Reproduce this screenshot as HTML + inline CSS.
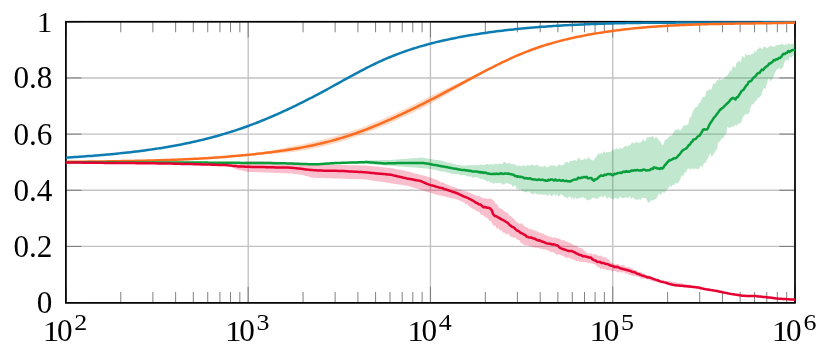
<!DOCTYPE html>
<html><head><meta charset="utf-8"><title>chart</title>
<style>html,body{margin:0;padding:0;background:#fff;}body{width:831px;height:353px;overflow:hidden;font-family:"Liberation Serif",serif;}svg{display:block;}</style>
</head><body>
<svg width="831" height="353" viewBox="0 0 831 353">
<rect width="831" height="353" fill="#fff"/>
<defs><clipPath id="c"><rect x="65.1" y="20.9" width="730.7" height="282.8"/></clipPath></defs>
<path d="M65.90,21.80V302.60M248.18,21.80V302.60M430.45,21.80V302.60M612.73,21.80V302.60M795.00,21.80V302.60M65.90,302.60H795.00M65.90,246.44H795.00M65.90,190.28H795.00M65.90,134.12H795.00M65.90,77.96H795.00M65.90,21.80H795.00" stroke="#c2c2c2" stroke-width="1.35" fill="none"/>
<path d="M120.77,302.90V292.00M120.77,21.75V32.30M152.87,302.90V292.00M152.87,21.75V32.30M175.64,302.90V292.00M175.64,21.75V32.30M193.30,302.90V292.00M193.30,21.75V32.30M207.74,302.90V292.00M207.74,21.75V32.30M219.94,302.90V292.00M219.94,21.75V32.30M230.51,302.90V292.00M230.51,21.75V32.30M239.83,302.90V292.00M239.83,21.75V32.30M303.05,302.90V292.00M303.05,21.75V32.30M335.14,302.90V292.00M335.14,21.75V32.30M357.92,302.90V292.00M357.92,21.75V32.30M375.58,302.90V292.00M375.58,21.75V32.30M390.01,302.90V292.00M390.01,21.75V32.30M402.22,302.90V292.00M402.22,21.75V32.30M412.79,302.90V292.00M412.79,21.75V32.30M422.11,302.90V292.00M422.11,21.75V32.30M485.32,302.90V292.00M485.32,21.75V32.30M517.42,302.90V292.00M517.42,21.75V32.30M540.19,302.90V292.00M540.19,21.75V32.30M557.85,302.90V292.00M557.85,21.75V32.30M572.29,302.90V292.00M572.29,21.75V32.30M584.49,302.90V292.00M584.49,21.75V32.30M595.06,302.90V292.00M595.06,21.75V32.30M604.38,302.90V292.00M604.38,21.75V32.30M667.60,302.90V292.00M667.60,21.75V32.30M699.69,302.90V292.00M699.69,21.75V32.30M722.47,302.90V292.00M722.47,21.75V32.30M740.13,302.90V292.00M740.13,21.75V32.30M754.56,302.90V292.00M754.56,21.75V32.30M766.77,302.90V292.00M766.77,21.75V32.30M777.34,302.90V292.00M777.34,21.75V32.30M786.66,302.90V292.00M786.66,21.75V32.30M65.90,302.90V286.80M65.90,21.75V37.50M248.18,302.90V286.80M248.18,21.75V37.50M430.45,302.90V286.80M430.45,21.75V37.50M612.73,302.90V286.80M612.73,21.75V37.50M795.00,302.90V286.80M795.00,21.75V37.50M65.90,302.60h15.60M795.00,302.60h-15.60M65.90,246.44h15.60M795.00,246.44h-15.60M65.90,190.28h15.60M795.00,190.28h-15.60M65.90,134.12h15.60M795.00,134.12h-15.60M65.90,77.96h15.60M795.00,77.96h-15.60M65.90,21.80h15.60M795.00,21.80h-15.60" stroke="#737373" stroke-width="0.9" fill="none"/>
<rect x="65.90" y="21.75" width="729.10" height="281.15" fill="none" stroke="#000" stroke-width="1.7"/>
<g clip-path="url(#c)" fill="none" stroke-linejoin="round" stroke-linecap="butt">
<polygon points="255.0,154.1 256.5,153.8 257.9,153.5 259.4,153.2 260.9,152.9 262.3,152.6 263.8,152.3 265.3,151.9 266.8,151.6 268.2,151.3 269.7,151.0 271.2,150.7 272.6,150.4 274.1,150.1 275.6,149.8 277.0,149.5 278.5,149.2 280.0,148.9 281.4,148.6 282.9,148.3 284.4,147.9 285.8,147.6 287.3,147.3 288.8,147.0 290.2,146.7 291.7,146.4 293.2,146.1 294.7,145.8 296.1,145.5 297.6,145.3 299.1,145.0 300.5,144.7 302.0,144.4 303.5,144.0 304.9,143.7 306.4,143.4 307.9,143.1 309.3,142.8 310.8,142.4 312.3,142.1 313.8,141.8 315.2,141.5 316.7,141.1 318.2,140.8 319.6,140.5 321.1,140.1 322.6,139.7 324.0,139.4 325.5,139.0 327.0,138.6 328.4,138.2 329.9,137.8 331.4,137.4 332.8,137.0 334.3,136.6 335.8,136.2 337.2,135.8 338.7,135.3 340.2,134.9 341.7,134.4 343.1,134.0 344.6,133.5 346.1,133.0 347.5,132.5 349.0,132.1 350.5,131.6 351.9,131.1 353.4,130.6 354.9,130.0 356.3,129.5 357.8,129.0 359.3,128.5 360.8,127.9 362.2,127.4 363.7,126.8 365.2,126.3 366.6,125.7 368.1,125.1 369.6,124.5 371.0,124.0 372.5,123.4 374.0,122.8 375.4,122.2 376.9,121.6 378.4,120.9 379.8,120.3 381.3,119.7 382.8,119.1 384.2,118.4 385.7,117.8 387.2,117.1 388.7,116.5 390.1,115.8 391.6,115.1 393.1,114.5 394.5,113.8 396.0,113.1 397.5,112.4 398.9,111.7 400.4,111.0 401.9,110.3 403.3,109.6 404.8,108.9 406.3,108.2 407.8,107.5 409.2,106.8 410.7,106.1 412.2,105.4 413.6,104.6 415.1,103.9 416.6,103.2 418.0,102.4 419.5,101.7 421.0,101.0 422.4,100.2 423.9,99.5 425.4,98.7 426.8,98.0 428.3,97.2 429.8,96.4 431.2,95.7 432.7,95.0 434.2,94.4 435.7,93.7 437.1,93.0 438.6,92.3 440.1,91.6 441.5,90.9 443.0,90.2 444.5,89.5 445.9,88.8 447.4,88.1 448.9,87.4 450.3,86.7 451.8,86.0 453.3,85.3 454.8,84.6 456.2,83.9 457.7,83.2 459.2,82.5 460.6,81.8 462.1,81.1 463.6,80.4 465.0,79.7 466.5,79.0 468.0,78.2 469.4,77.5 470.9,76.8 472.4,76.1 473.8,75.4 475.3,74.7 476.8,74.1 478.2,73.5 479.7,72.8 481.2,72.2 482.7,71.6 484.1,71.0 485.6,70.3 487.1,69.7 488.5,69.1 490.0,68.5 490.0,68.5 488.5,69.4 487.1,70.3 485.6,71.2 484.1,72.1 482.7,73.1 481.2,74.0 479.7,74.9 478.2,75.8 476.8,76.7 475.3,77.7 473.8,78.5 472.4,79.4 470.9,80.3 469.4,81.1 468.0,82.0 466.5,82.9 465.0,83.7 463.6,84.6 462.1,85.5 460.6,86.3 459.2,87.2 457.7,88.1 456.2,88.9 454.8,89.8 453.3,90.7 451.8,91.6 450.3,92.4 448.9,93.3 447.4,94.2 445.9,95.0 444.5,95.9 443.0,96.7 441.5,97.6 440.1,98.4 438.6,99.3 437.1,100.1 435.7,100.9 434.2,101.8 432.7,102.6 431.2,103.4 429.8,104.2 428.3,105.0 426.8,105.7 425.4,106.5 423.9,107.2 422.4,107.9 421.0,108.7 419.5,109.4 418.0,110.1 416.6,110.8 415.1,111.6 413.6,112.3 412.2,113.0 410.7,113.7 409.2,114.4 407.8,115.1 406.3,115.8 404.8,116.5 403.3,117.2 401.9,117.8 400.4,118.5 398.9,119.2 397.5,119.9 396.0,120.5 394.5,121.2 393.1,121.8 391.6,122.5 390.1,123.1 388.7,123.8 387.2,124.4 385.7,125.0 384.2,125.7 382.8,126.3 381.3,126.9 379.8,127.5 378.4,128.1 376.9,128.7 375.4,129.3 374.0,129.9 372.5,130.5 371.0,131.1 369.6,131.7 368.1,132.3 366.6,132.8 365.2,133.4 363.7,133.9 362.2,134.5 360.8,135.0 359.3,135.6 357.8,136.1 356.3,136.6 354.9,137.1 353.4,137.6 351.9,138.1 350.5,138.6 349.0,139.1 347.5,139.6 346.1,140.1 344.6,140.5 343.1,141.0 341.7,141.4 340.2,141.9 338.7,142.3 337.2,142.7 335.8,143.1 334.3,143.5 332.8,143.9 331.4,144.3 329.9,144.7 328.4,145.1 327.0,145.4 325.5,145.8 324.0,146.2 322.6,146.5 321.1,146.8 319.6,147.2 318.2,147.5 316.7,147.8 315.2,148.1 313.8,148.4 312.3,148.7 310.8,149.0 309.3,149.3 307.9,149.6 306.4,149.8 304.9,150.1 303.5,150.3 302.0,150.6 300.5,150.8 299.1,151.0 297.6,151.2 296.1,151.5 294.7,151.7 293.2,151.9 291.7,152.1 290.2,152.3 288.8,152.4 287.3,152.5 285.8,152.7 284.4,152.8 282.9,152.9 281.4,153.0 280.0,153.1 278.5,153.2 277.0,153.3 275.6,153.4 274.1,153.5 272.6,153.6 271.2,153.7 269.7,153.8 268.2,153.8 266.8,153.8 265.3,153.9 263.8,153.9 262.3,154.0 260.9,154.0 259.4,154.0 257.9,154.0 256.5,154.1 255.0,154.1" fill="#fc6d1f" fill-opacity="0.25" stroke="none"/>
<polygon points="340.0,162.9 341.3,162.8 342.6,162.6 343.9,162.5 345.2,162.4 346.5,162.3 347.8,162.1 349.1,162.0 350.4,161.9 351.7,161.8 353.0,161.6 354.3,161.5 355.6,161.4 356.9,161.2 358.2,161.1 359.5,161.0 360.8,160.9 362.1,160.7 363.4,160.6 364.7,160.5 366.0,160.4 367.3,160.4 368.6,160.4 369.9,160.3 371.2,160.3 372.5,160.3 373.8,160.3 375.1,160.2 376.4,160.2 377.7,160.2 379.0,160.2 380.3,160.2 381.6,160.1 382.9,160.1 384.2,160.1 385.5,160.1 386.8,160.1 388.1,160.0 389.4,160.0 390.7,160.0 392.0,159.9 393.3,159.8 394.6,159.7 395.9,159.6 397.2,159.5 398.5,159.4 399.8,159.3 401.1,159.2 402.4,159.1 403.7,159.0 405.0,158.9 406.3,158.8 407.6,158.7 408.9,158.6 410.2,158.5 411.5,158.4 412.8,158.3 414.1,158.2 415.4,158.0 416.7,157.9 418.0,157.8 419.3,157.7 420.6,157.6 421.9,157.6 423.2,157.8 424.5,158.0 425.8,158.3 427.1,158.5 428.4,158.7 429.7,158.9 431.0,159.1 432.3,159.3 433.6,159.5 434.9,159.7 436.2,159.9 437.5,160.0 438.8,160.3 440.1,160.3 441.4,160.7 442.7,160.8 444.0,161.4 445.3,161.9 446.6,162.0 447.9,162.7 449.2,162.6 450.5,162.8 451.8,163.5 453.1,163.5 454.4,163.9 455.7,164.5 457.0,165.0 458.3,165.0 459.6,165.1 460.9,165.7 462.2,165.3 463.5,165.8 464.8,165.7 466.1,165.2 467.4,165.2 468.7,165.3 470.0,165.3 471.3,165.3 472.6,165.2 473.9,165.2 475.2,165.6 476.5,165.0 477.8,164.9 479.1,165.2 480.4,164.5 481.7,164.6 483.0,165.5 484.3,164.8 485.6,164.8 486.9,163.9 488.2,164.5 489.5,164.7 490.8,163.7 492.1,164.7 493.4,164.7 494.7,163.5 496.0,164.4 497.3,163.9 498.6,164.2 499.9,163.4 501.2,163.9 502.5,163.8 503.8,162.1 505.1,162.0 506.4,163.2 507.7,163.8 509.0,162.5 510.3,163.5 511.6,164.3 512.9,163.9 514.2,164.5 515.5,164.8 516.8,165.4 518.1,166.3 519.4,165.5 520.7,165.7 522.0,166.6 523.3,164.7 524.6,165.9 525.9,166.3 527.2,165.2 528.5,164.9 529.8,166.3 531.1,164.8 532.4,164.7 533.7,165.2 535.0,165.8 536.3,164.4 537.6,165.2 538.9,165.4 540.2,166.9 541.5,166.0 542.8,167.3 544.1,165.6 545.4,166.2 546.7,166.9 548.0,167.3 549.3,166.2 550.6,165.5 551.9,165.1 553.2,166.1 554.5,165.1 555.8,166.6 557.1,166.6 558.4,164.7 559.7,164.5 561.0,165.8 562.3,164.8 563.6,164.9 564.9,163.0 566.2,161.8 567.5,161.9 568.8,163.1 570.1,161.1 571.4,161.0 572.7,160.8 574.0,160.5 575.3,160.1 576.6,161.3 577.9,158.6 579.2,157.8 580.5,160.3 581.8,159.9 583.1,159.9 584.4,158.2 585.7,159.4 587.0,159.1 588.3,156.9 589.6,158.2 590.9,159.7 592.2,160.3 593.5,160.6 594.8,158.3 596.1,157.2 597.4,155.3 598.7,153.2 600.0,154.5 601.3,152.7 602.6,154.0 603.9,151.0 605.2,153.3 606.5,152.1 607.8,152.4 609.1,152.1 610.4,151.9 611.7,150.8 613.0,148.9 614.3,150.8 615.6,148.6 616.9,148.6 618.2,149.3 619.5,148.5 620.8,147.8 622.1,149.0 623.4,147.6 624.7,146.3 626.0,145.4 627.3,147.0 628.6,145.1 629.9,145.6 631.2,143.6 632.5,142.5 633.8,143.1 635.1,143.6 636.4,141.3 637.7,142.8 639.0,142.9 640.3,142.2 641.6,141.9 642.9,139.2 644.2,140.8 645.5,141.0 646.8,137.4 648.1,137.6 649.4,136.9 650.7,137.2 652.0,136.2 653.3,136.3 654.6,139.1 655.9,136.5 657.2,138.0 658.5,139.7 659.8,141.0 661.1,142.9 662.4,145.5 663.7,144.1 665.0,139.3 666.3,140.1 667.6,138.1 668.9,136.9 670.2,135.8 671.5,135.8 672.8,133.9 674.1,131.2 675.4,129.6 676.7,129.9 678.0,129.0 679.3,130.0 680.6,130.2 681.9,128.6 683.2,126.0 684.5,125.4 685.8,125.2 687.1,125.0 688.4,123.7 689.7,117.0 691.0,117.6 692.3,113.0 693.6,110.0 694.9,108.0 696.2,107.0 697.5,106.5 698.8,103.2 700.1,103.1 701.4,100.0 702.7,96.9 704.0,96.9 705.3,96.1 706.6,90.5 707.9,90.8 709.2,89.0 710.5,90.0 711.8,88.5 713.1,83.3 714.4,84.3 715.7,82.8 717.0,80.2 718.3,80.3 719.6,78.5 720.9,80.3 722.2,79.2 723.5,79.3 724.8,77.8 726.1,76.2 727.4,75.5 728.7,73.6 730.0,70.4 731.3,71.5 732.6,67.0 733.9,66.3 735.2,68.2 736.5,62.9 737.8,61.8 739.1,60.4 740.4,63.1 741.7,57.8 743.0,55.5 744.3,58.5 745.6,53.4 746.9,55.6 748.2,54.7 749.5,54.9 750.8,55.0 752.1,53.6 753.4,54.1 754.7,50.7 756.0,52.6 757.3,49.3 758.6,49.0 759.9,47.1 761.2,48.6 762.5,48.9 763.8,46.5 765.1,47.1 766.4,47.5 767.7,48.1 769.0,46.4 770.3,46.0 771.6,46.0 772.9,46.8 774.2,46.9 775.5,45.6 776.8,45.3 778.1,45.1 779.4,44.7 780.7,44.7 782.0,43.5 783.3,44.4 784.6,45.5 785.9,43.9 787.2,44.7 788.5,43.0 789.8,44.3 791.1,44.3 792.4,44.0 793.7,43.5 794.9,43.3 794.9,53.8 793.7,55.0 792.4,56.6 791.1,58.1 789.8,56.3 788.5,61.1 787.2,59.3 785.9,60.4 784.6,61.4 783.3,66.2 782.0,68.2 780.7,69.7 779.4,67.4 778.1,68.9 776.8,69.4 775.5,71.8 774.2,74.8 772.9,78.1 771.6,80.0 770.3,81.6 769.0,77.9 767.7,80.4 766.4,85.4 765.1,89.4 763.8,87.6 762.5,91.4 761.2,95.3 759.9,97.1 758.6,97.6 757.3,98.8 756.0,101.3 754.7,101.5 753.4,104.5 752.1,104.2 750.8,106.2 749.5,111.8 748.2,114.5 746.9,114.1 745.6,114.0 744.3,115.1 743.0,117.2 741.7,121.0 740.4,123.6 739.1,123.5 737.8,124.0 736.5,126.2 735.2,124.6 733.9,126.7 732.6,126.5 731.3,127.3 730.0,127.5 728.7,128.0 727.4,126.2 726.1,134.0 724.8,134.8 723.5,138.3 722.2,137.9 720.9,139.5 719.6,142.3 718.3,141.5 717.0,149.2 715.7,150.4 714.4,152.5 713.1,154.8 711.8,157.3 710.5,153.4 709.2,155.1 707.9,158.4 706.6,160.3 705.3,163.4 704.0,162.3 702.7,167.4 701.4,166.0 700.1,165.8 698.8,169.5 697.5,168.7 696.2,169.1 694.9,168.3 693.6,169.6 692.3,167.5 691.0,169.9 689.7,168.2 688.4,168.7 687.1,169.6 685.8,172.5 684.5,172.6 683.2,176.9 681.9,174.8 680.6,178.4 679.3,181.2 678.0,182.9 676.7,183.8 675.4,182.4 674.1,185.5 672.8,184.6 671.5,187.1 670.2,185.5 668.9,187.5 667.6,188.9 666.3,189.8 665.0,192.7 663.7,192.8 662.4,192.0 661.1,195.4 659.8,193.7 658.5,194.0 657.2,197.1 655.9,199.3 654.6,199.3 653.3,200.4 652.0,200.3 650.7,200.4 649.4,202.6 648.1,202.7 646.8,199.8 645.5,197.9 644.2,198.3 642.9,197.6 641.6,198.0 640.3,200.4 639.0,198.7 637.7,200.4 636.4,199.0 635.1,200.0 633.8,197.9 632.5,197.2 631.2,199.0 629.9,196.1 628.6,197.8 627.3,197.8 626.0,197.0 624.7,197.4 623.4,198.6 622.1,198.0 620.8,196.9 619.5,197.0 618.2,199.5 616.9,198.4 615.6,197.9 614.3,198.3 613.0,199.7 611.7,198.3 610.4,198.4 609.1,196.6 607.8,198.5 606.5,198.2 605.2,195.3 603.9,196.5 602.6,197.5 601.3,196.6 600.0,196.3 598.7,197.9 597.4,199.0 596.1,198.2 594.8,198.8 593.5,197.4 592.2,197.7 590.9,199.4 589.6,199.6 588.3,200.3 587.0,200.4 585.7,197.9 584.4,198.5 583.1,196.4 581.8,197.9 580.5,197.3 579.2,198.5 577.9,198.5 576.6,198.9 575.3,197.2 574.0,199.4 572.7,197.1 571.4,199.3 570.1,196.3 568.8,196.6 567.5,198.4 566.2,197.5 564.9,196.7 563.6,196.6 562.3,194.9 561.0,194.3 559.7,195.7 558.4,196.4 557.1,194.2 555.8,196.1 554.5,193.9 553.2,195.3 551.9,196.0 550.6,196.0 549.3,193.7 548.0,195.8 546.7,195.6 545.4,193.9 544.1,194.9 542.8,194.6 541.5,194.2 540.2,194.8 538.9,194.2 537.6,194.4 536.3,193.9 535.0,192.9 533.7,194.3 532.4,194.1 531.1,193.8 529.8,192.0 528.5,191.4 527.2,192.1 525.9,192.5 524.6,192.1 523.3,191.1 522.0,191.4 520.7,189.1 519.4,190.6 518.1,188.5 516.8,189.2 515.5,185.8 514.2,185.6 512.9,187.4 511.6,184.8 510.3,184.2 509.0,183.8 507.7,183.4 506.4,182.9 505.1,183.8 503.8,184.4 502.5,184.4 501.2,183.1 499.9,183.3 498.6,182.5 497.3,183.2 496.0,182.8 494.7,183.1 493.4,183.9 492.1,182.3 490.8,182.7 489.5,181.8 488.2,180.6 486.9,182.0 485.6,180.1 484.3,180.2 483.0,179.0 481.7,178.8 480.4,179.3 479.1,178.1 477.8,177.5 476.5,177.3 475.2,177.3 473.9,177.3 472.6,177.9 471.3,176.5 470.0,176.5 468.7,176.4 467.4,176.6 466.1,175.7 464.8,175.3 463.5,175.1 462.2,175.2 460.9,175.6 459.6,174.8 458.3,174.3 457.0,174.4 455.7,173.9 454.4,173.7 453.1,173.9 451.8,173.4 450.5,173.4 449.2,172.8 447.9,172.7 446.6,172.6 445.3,172.0 444.0,171.6 442.7,171.7 441.4,171.4 440.1,171.2 438.8,170.8 437.5,170.5 436.2,170.1 434.9,169.9 433.6,169.6 432.3,169.4 431.0,169.1 429.7,168.9 428.4,168.7 427.1,168.6 425.8,168.5 424.5,168.3 423.2,168.2 421.9,168.0 420.6,167.9 419.3,167.9 418.0,167.8 416.7,167.7 415.4,167.6 414.1,167.6 412.8,167.5 411.5,167.4 410.2,167.3 408.9,167.3 407.6,167.2 406.3,167.1 405.0,167.0 403.7,166.8 402.4,166.7 401.1,166.6 399.8,166.5 398.5,166.4 397.2,166.3 395.9,166.2 394.6,166.1 393.3,166.0 392.0,165.9 390.7,165.8 389.4,165.7 388.1,165.6 386.8,165.5 385.5,165.4 384.2,165.3 382.9,165.2 381.6,165.1 380.3,165.0 379.0,164.9 377.7,164.8 376.4,164.7 375.1,164.6 373.8,164.5 372.5,164.3 371.2,164.2 369.9,164.1 368.6,164.0 367.3,163.9 366.0,163.8 364.7,163.8 363.4,163.7 362.1,163.7 360.8,163.6 359.5,163.6 358.2,163.5 356.9,163.5 355.6,163.5 354.3,163.4 353.0,163.4 351.7,163.3 350.4,163.3 349.1,163.2 347.8,163.2 346.5,163.1 345.2,163.1 343.9,163.0 342.6,163.0 341.3,162.9 340.0,162.9" fill="#089e3c" fill-opacity="0.25" stroke="none"/>
<polygon points="227.0,165.2 228.5,164.9 230.0,164.7 231.5,164.4 233.0,164.1 234.5,163.8 236.0,163.6 237.5,163.3 239.0,163.0 240.5,162.7 242.0,162.4 243.5,162.1 245.0,161.8 246.5,161.5 248.0,161.2 249.5,161.2 251.0,161.2 252.5,161.2 254.0,161.3 255.5,161.3 257.0,161.3 258.5,161.3 260.0,161.3 261.5,161.3 263.0,161.3 264.5,161.4 266.0,161.4 267.5,161.4 269.0,161.4 270.5,161.5 272.0,161.5 273.5,161.6 275.0,161.6 276.5,161.7 278.0,161.7 279.5,161.8 281.0,161.8 282.5,161.9 284.0,161.9 285.5,162.0 287.0,162.0 288.5,162.1 290.0,162.1 291.5,162.2 293.0,162.3 294.5,162.4 296.0,162.5 297.5,162.5 299.0,162.6 300.5,162.7 302.0,162.8 303.5,162.9 305.0,163.0 306.5,163.1 308.0,163.2 309.5,163.2 311.0,163.3 312.5,163.4 314.0,163.5 315.5,163.6 317.0,163.7 318.5,163.8 320.0,163.8 321.5,163.9 323.0,164.0 324.5,164.1 326.0,164.2 327.5,164.3 329.0,164.4 330.5,164.5 332.0,164.5 333.5,164.6 335.0,164.7 336.5,164.8 338.0,164.9 339.5,165.0 341.0,165.0 342.5,165.0 344.0,165.1 345.5,165.1 347.0,165.1 348.5,165.2 350.0,165.2 351.5,165.2 353.0,165.3 354.5,165.3 356.0,165.3 357.5,165.3 359.0,165.4 360.5,165.4 362.0,165.4 363.5,165.5 365.0,165.5 366.5,165.6 368.0,165.7 369.5,165.9 371.0,166.0 372.5,166.2 374.0,166.3 375.5,166.5 377.0,166.6 378.5,166.8 380.0,166.9 381.5,167.1 383.0,167.2 384.5,167.4 386.0,167.5 387.5,167.7 389.0,167.8 390.5,168.0 392.0,168.2 393.5,168.5 395.0,168.8 396.5,169.1 398.0,169.4 399.5,169.7 401.0,170.0 402.5,170.3 404.0,170.6 405.5,170.9 407.0,171.2 408.5,171.6 410.0,171.9 411.5,172.3 413.0,172.9 414.5,173.3 416.0,173.7 417.5,174.0 419.0,174.4 420.5,174.9 422.0,175.2 423.5,175.5 425.0,176.0 426.5,176.3 428.0,176.8 429.5,177.5 431.0,178.1 432.5,178.5 434.0,179.0 435.5,179.5 437.0,179.9 438.5,180.7 440.0,181.7 441.5,182.4 443.0,182.6 444.5,183.5 446.0,184.1 447.5,184.7 449.0,185.3 450.5,186.0 452.0,186.2 453.5,187.1 455.0,187.3 456.5,188.1 458.0,189.0 459.5,189.5 461.0,189.6 462.5,190.9 464.0,191.1 465.5,191.5 467.0,191.3 468.5,192.5 470.0,192.6 471.5,193.7 473.0,193.9 474.5,195.0 476.0,195.3 477.5,196.1 479.0,196.0 480.5,197.0 482.0,197.7 483.5,198.4 485.0,198.0 486.5,198.8 488.0,198.8 489.5,198.6 491.0,198.9 492.5,199.4 494.0,200.9 495.5,203.8 497.0,204.1 498.5,206.9 500.0,208.4 501.5,208.4 503.0,210.0 504.5,211.2 506.0,212.5 507.5,212.5 509.0,215.3 510.5,216.1 512.0,217.6 513.5,218.3 515.0,220.2 516.5,221.8 518.0,222.7 519.5,223.7 521.0,223.2 522.5,224.3 524.0,225.8 525.5,227.1 527.0,227.1 528.5,228.8 530.0,229.3 531.5,228.8 533.0,230.3 534.5,230.4 536.0,230.8 537.5,231.6 539.0,232.5 540.5,232.8 542.0,233.4 543.5,233.6 545.0,234.9 546.5,235.3 548.0,236.3 549.5,236.7 551.0,236.5 552.5,237.9 554.0,236.9 555.5,237.9 557.0,238.1 558.5,238.8 560.0,238.8 561.5,240.5 563.0,240.3 564.5,240.2 566.0,241.8 567.5,241.4 569.0,242.8 570.5,243.0 572.0,244.0 573.5,245.2 575.0,245.5 576.5,245.5 578.0,247.2 579.5,247.8 581.0,248.2 582.5,248.7 584.0,250.6 585.5,251.5 587.0,253.2 588.5,253.8 590.0,253.6 591.5,253.6 593.0,254.8 594.5,253.8 596.0,254.3 597.5,255.4 599.0,255.9 600.5,255.5 602.0,256.6 603.5,257.4 605.0,257.0 606.5,258.2 608.0,258.9 609.5,260.2 611.0,263.0 612.5,262.8 614.0,264.1 615.5,264.4 617.0,264.3 618.5,264.1 620.0,265.5 621.5,265.1 623.0,265.3 624.5,265.5 626.0,267.1 627.5,266.9 629.0,267.1 630.5,268.1 632.0,268.1 633.5,269.6 635.0,269.9 636.5,270.2 638.0,271.7 639.5,272.4 641.0,271.6 642.5,273.2 644.0,273.4 645.5,275.1 647.0,275.5 648.5,275.3 650.0,275.9 651.5,276.3 653.0,278.0 654.5,277.6 656.0,278.5 657.5,278.9 659.0,279.6 660.5,280.0 662.0,280.4 663.5,280.1 665.0,280.9 666.5,280.7 668.0,281.2 669.5,281.3 671.0,281.5 672.5,281.9 674.0,282.1 675.5,282.3 677.0,282.8 678.5,282.9 680.0,282.9 681.5,283.3 683.0,283.6 684.5,284.1 686.0,284.3 687.5,284.4 689.0,284.5 690.5,285.0 692.0,285.1 693.5,285.4 695.0,285.7 696.5,285.9 698.0,286.2 699.5,286.4 701.0,286.7 702.5,287.1 704.0,287.4 705.5,287.8 707.0,288.1 708.5,288.5 710.0,288.8 711.5,289.2 713.0,289.5 714.5,289.9 716.0,290.2 717.5,290.6 719.0,290.9 720.5,291.3 722.0,291.6 723.5,292.0 725.0,292.3 725.0,292.3 723.5,292.1 722.0,291.9 720.5,291.8 719.0,291.6 717.5,291.4 716.0,291.2 714.5,291.0 713.0,290.9 711.5,290.7 710.0,290.5 708.5,290.3 707.0,290.1 705.5,290.0 704.0,289.8 702.5,289.6 701.0,289.4 699.5,289.2 698.0,289.0 696.5,288.7 695.0,288.5 693.5,288.3 692.0,287.9 690.5,287.7 689.0,287.4 687.5,287.2 686.0,287.1 684.5,286.6 683.0,286.7 681.5,286.1 680.0,285.8 678.5,285.6 677.0,285.4 675.5,285.1 674.0,285.3 672.5,284.8 671.0,284.9 669.5,284.7 668.0,283.7 666.5,284.2 665.0,283.3 663.5,283.3 662.0,282.7 660.5,283.0 659.0,282.1 657.5,282.4 656.0,281.9 654.5,281.6 653.0,281.5 651.5,280.8 650.0,280.5 648.5,279.3 647.0,279.4 645.5,278.5 644.0,278.9 642.5,278.5 641.0,278.3 639.5,276.9 638.0,276.9 636.5,276.2 635.0,276.3 633.5,276.0 632.0,275.5 630.5,275.2 629.0,275.0 627.5,273.2 626.0,274.3 624.5,272.6 623.0,272.3 621.5,272.8 620.0,271.8 618.5,272.5 617.0,272.0 615.5,271.3 614.0,270.8 612.5,271.4 611.0,270.6 609.5,269.9 608.0,270.5 606.5,269.9 605.0,269.0 603.5,269.2 602.0,268.5 600.5,268.9 599.0,266.8 597.5,267.3 596.0,264.9 594.5,264.0 593.0,263.8 591.5,263.4 590.0,262.4 588.5,263.3 587.0,262.6 585.5,262.0 584.0,262.3 582.5,261.9 581.0,261.7 579.5,261.4 578.0,261.0 576.5,261.4 575.0,260.1 573.5,259.7 572.0,259.1 570.5,258.5 569.0,257.7 567.5,257.9 566.0,257.7 564.5,256.9 563.0,255.8 561.5,255.4 560.0,254.6 558.5,254.5 557.0,254.8 555.5,253.7 554.0,252.6 552.5,252.0 551.0,251.8 549.5,251.6 548.0,250.3 546.5,250.0 545.0,249.3 543.5,249.6 542.0,248.5 540.5,248.9 539.0,247.9 537.5,247.5 536.0,247.8 534.5,247.4 533.0,247.2 531.5,246.2 530.0,246.8 528.5,245.4 527.0,245.2 525.5,245.2 524.0,244.9 522.5,243.6 521.0,243.2 519.5,240.2 518.0,240.0 516.5,238.7 515.0,237.6 513.5,237.8 512.0,237.1 510.5,236.7 509.0,234.4 507.5,233.4 506.0,234.4 504.5,232.5 503.0,232.7 501.5,230.3 500.0,230.6 498.5,228.0 497.0,228.9 495.5,225.8 494.0,226.1 492.5,224.2 491.0,220.8 489.5,221.1 488.0,218.7 486.5,217.8 485.0,217.2 483.5,215.2 482.0,215.1 480.5,214.2 479.0,211.6 477.5,211.8 476.0,210.7 474.5,209.2 473.0,209.0 471.5,208.1 470.0,207.1 468.5,205.7 467.0,204.0 465.5,204.2 464.0,202.2 462.5,202.1 461.0,201.1 459.5,200.6 458.0,199.8 456.5,199.6 455.0,198.7 453.5,198.4 452.0,198.5 450.5,197.7 449.0,197.8 447.5,197.4 446.0,196.7 444.5,196.5 443.0,195.9 441.5,195.8 440.0,195.4 438.5,195.3 437.0,194.8 435.5,194.2 434.0,193.9 432.5,193.6 431.0,192.8 429.5,192.3 428.0,192.3 426.5,191.8 425.0,191.1 423.5,190.8 422.0,190.1 420.5,189.9 419.0,189.1 417.5,188.7 416.0,188.4 414.5,187.8 413.0,187.4 411.5,187.1 410.0,186.6 408.5,186.1 407.0,185.7 405.5,185.5 404.0,185.3 402.5,185.1 401.0,184.8 399.5,184.6 398.0,184.4 396.5,184.1 395.0,183.9 393.5,183.7 392.0,183.5 390.5,183.2 389.0,183.0 387.5,182.8 386.0,182.5 384.5,182.3 383.0,182.1 381.5,181.8 380.0,181.6 378.5,181.4 377.0,181.2 375.5,180.9 374.0,180.7 372.5,180.5 371.0,180.2 369.5,180.0 368.0,179.8 366.5,179.6 365.0,179.4 363.5,179.3 362.0,179.3 360.5,179.2 359.0,179.2 357.5,179.1 356.0,179.1 354.5,179.1 353.0,179.0 351.5,179.0 350.0,178.9 348.5,178.9 347.0,178.8 345.5,178.8 344.0,178.7 342.5,178.7 341.0,178.6 339.5,178.6 338.0,178.5 336.5,178.5 335.0,178.4 333.5,178.4 332.0,178.3 330.5,178.3 329.0,178.2 327.5,178.2 326.0,178.1 324.5,178.1 323.0,178.1 321.5,178.0 320.0,178.0 318.5,177.9 317.0,177.9 315.5,177.8 314.0,177.8 312.5,177.7 311.0,177.4 309.5,177.0 308.0,176.5 306.5,176.1 305.0,175.7 303.5,175.2 302.0,174.8 300.5,174.6 299.0,174.4 297.5,174.2 296.0,174.0 294.5,173.9 293.0,173.7 291.5,173.5 290.0,173.4 288.5,173.4 287.0,173.3 285.5,173.3 284.0,173.2 282.5,173.2 281.0,173.1 279.5,173.0 278.0,173.0 276.5,172.9 275.0,172.9 273.5,172.8 272.0,172.8 270.5,172.7 269.0,172.6 267.5,172.6 266.0,172.5 264.5,172.5 263.0,172.4 261.5,172.4 260.0,172.3 258.5,172.3 257.0,172.2 255.5,172.2 254.0,172.1 252.5,172.1 251.0,172.0 249.5,171.9 248.0,171.9 246.5,171.6 245.0,171.3 243.5,171.0 242.0,170.6 240.5,170.3 239.0,170.0 237.5,169.7 236.0,169.1 234.5,168.4 233.0,167.8 231.5,167.1 230.0,166.5 228.5,165.8 227.0,165.2" fill="#e60032" fill-opacity="0.25" stroke="none"/>
<path d="M65.90,157.68 C66.37,157.65 67.78,157.56 68.72,157.49 C69.65,157.43 70.59,157.37 71.53,157.31 C72.47,157.24 73.41,157.18 74.35,157.11 C75.28,157.05 76.22,156.99 77.16,156.92 C78.10,156.85 79.04,156.79 79.98,156.72 C80.91,156.65 81.85,156.59 82.79,156.52 C83.73,156.45 84.67,156.38 85.61,156.31 C86.54,156.24 87.48,156.17 88.42,156.10 C89.36,156.03 90.30,155.96 91.24,155.89 C92.17,155.81 93.11,155.74 94.05,155.66 C94.99,155.59 95.93,155.51 96.87,155.44 C97.80,155.36 98.74,155.28 99.68,155.21 C100.62,155.13 101.56,155.05 102.50,154.97 C103.43,154.89 104.37,154.80 105.31,154.72 C106.25,154.64 107.19,154.55 108.13,154.47 C109.06,154.38 110.00,154.30 110.94,154.21 C111.88,154.12 112.82,154.03 113.76,153.94 C114.69,153.85 115.63,153.76 116.57,153.67 C117.51,153.57 118.45,153.48 119.39,153.38 C120.32,153.29 121.26,153.19 122.20,153.09 C123.14,152.99 124.08,152.89 125.02,152.79 C125.95,152.69 126.89,152.59 127.83,152.48 C128.77,152.38 129.71,152.27 130.65,152.16 C131.58,152.05 132.52,151.94 133.46,151.83 C134.40,151.72 135.34,151.61 136.28,151.49 C137.21,151.38 138.15,151.26 139.09,151.14 C140.03,151.03 140.97,150.91 141.91,150.78 C142.84,150.66 143.78,150.54 144.72,150.41 C145.66,150.29 146.60,150.16 147.54,150.03 C148.48,149.90 149.41,149.77 150.35,149.63 C151.29,149.50 152.23,149.36 153.17,149.22 C154.11,149.09 155.04,148.95 155.98,148.80 C156.92,148.66 157.86,148.52 158.80,148.37 C159.74,148.22 160.67,148.08 161.61,147.92 C162.55,147.77 163.49,147.62 164.43,147.46 C165.37,147.31 166.30,147.15 167.24,146.99 C168.18,146.83 169.12,146.67 170.06,146.50 C171.00,146.34 171.93,146.17 172.87,146.00 C173.81,145.83 174.75,145.66 175.69,145.48 C176.63,145.31 177.56,145.13 178.50,144.95 C179.44,144.77 180.38,144.59 181.32,144.40 C182.26,144.22 183.19,144.03 184.13,143.84 C185.07,143.65 186.01,143.45 186.95,143.26 C187.89,143.06 188.82,142.86 189.76,142.66 C190.70,142.46 191.64,142.26 192.58,142.05 C193.52,141.84 194.45,141.63 195.39,141.42 C196.33,141.20 197.27,140.99 198.21,140.77 C199.15,140.55 200.08,140.33 201.02,140.10 C201.96,139.88 202.90,139.65 203.84,139.42 C204.78,139.19 205.71,138.95 206.65,138.72 C207.59,138.48 208.53,138.24 209.47,137.99 C210.41,137.75 211.34,137.50 212.28,137.25 C213.22,137.00 214.16,136.75 215.10,136.49 C216.04,136.24 216.97,135.98 217.91,135.71 C218.85,135.45 219.79,135.18 220.73,134.91 C221.67,134.64 222.60,134.37 223.54,134.09 C224.48,133.81 225.42,133.53 226.36,133.25 C227.30,132.97 228.24,132.68 229.17,132.39 C230.11,132.10 231.05,131.80 231.99,131.50 C232.93,131.20 233.87,130.90 234.80,130.60 C235.74,130.29 236.68,129.98 237.62,129.67 C238.56,129.35 239.50,129.04 240.43,128.72 C241.37,128.39 242.31,128.07 243.25,127.74 C244.19,127.41 245.13,127.08 246.06,126.74 C247.00,126.41 247.94,126.07 248.88,125.72 C249.82,125.38 250.76,125.03 251.69,124.68 C252.63,124.33 253.57,123.97 254.51,123.61 C255.45,123.25 256.39,122.89 257.32,122.52 C258.26,122.15 259.20,121.78 260.14,121.41 C261.08,121.03 262.02,120.66 262.95,120.27 C263.89,119.89 264.83,119.51 265.77,119.12 C266.71,118.73 267.65,118.34 268.58,117.94 C269.52,117.54 270.46,117.14 271.40,116.74 C272.34,116.34 273.28,115.93 274.21,115.52 C275.15,115.11 276.09,114.70 277.03,114.28 C277.97,113.87 278.91,113.45 279.84,113.02 C280.78,112.60 281.72,112.17 282.66,111.75 C283.60,111.32 284.54,110.88 285.47,110.45 C286.41,110.01 287.35,109.58 288.29,109.13 C289.23,108.69 290.17,108.25 291.10,107.80 C292.04,107.35 292.98,106.90 293.92,106.45 C294.86,106.00 295.80,105.54 296.73,105.08 C297.67,104.62 298.61,104.16 299.55,103.70 C300.49,103.23 301.43,102.77 302.36,102.30 C303.30,101.83 304.24,101.35 305.18,100.88 C306.12,100.40 307.06,99.93 307.99,99.45 C308.93,98.97 309.87,98.48 310.81,98.00 C311.75,97.51 312.69,97.03 313.63,96.54 C314.56,96.05 315.50,95.55 316.44,95.06 C317.38,94.56 318.32,94.07 319.26,93.57 C320.19,93.07 321.13,92.57 322.07,92.06 C323.01,91.56 323.95,91.05 324.89,90.55 C325.82,90.04 326.76,89.53 327.70,89.02 C328.64,88.50 329.58,87.99 330.52,87.48 C331.45,86.96 332.39,86.44 333.33,85.93 C334.27,85.41 335.21,84.89 336.15,84.37 C337.08,83.86 338.02,83.34 338.96,82.82 C339.90,82.30 340.84,81.78 341.78,81.26 C342.71,80.74 343.65,80.23 344.59,79.71 C345.53,79.19 346.47,78.67 347.41,78.16 C348.34,77.64 349.28,77.13 350.22,76.62 C351.16,76.11 352.10,75.60 353.04,75.09 C353.97,74.58 354.91,74.07 355.85,73.57 C356.79,73.06 357.73,72.56 358.67,72.06 C359.60,71.57 360.54,71.07 361.48,70.58 C362.42,70.09 363.36,69.60 364.30,69.11 C365.23,68.63 366.17,68.15 367.11,67.67 C368.05,67.19 368.99,66.72 369.93,66.25 C370.86,65.78 371.80,65.32 372.74,64.86 C373.68,64.40 374.62,63.95 375.56,63.50 C376.49,63.05 377.43,62.61 378.37,62.18 C379.31,61.74 380.25,61.31 381.19,60.88 C382.12,60.46 383.06,60.04 384.00,59.63 C384.94,59.22 385.88,58.81 386.82,58.41 C387.75,58.01 388.69,57.62 389.63,57.23 C390.57,56.84 391.51,56.46 392.45,56.08 C393.39,55.71 394.32,55.34 395.26,54.97 C396.20,54.61 397.14,54.25 398.08,53.90 C399.02,53.54 399.95,53.19 400.89,52.85 C401.83,52.51 402.77,52.17 403.71,51.84 C404.65,51.51 405.58,51.18 406.52,50.86 C407.46,50.53 408.40,50.22 409.34,49.91 C410.28,49.59 411.21,49.29 412.15,48.98 C413.09,48.68 414.03,48.39 414.97,48.09 C415.91,47.80 416.84,47.51 417.78,47.23 C418.72,46.94 419.66,46.67 420.60,46.39 C421.54,46.12 422.47,45.85 423.41,45.58 C424.35,45.31 425.29,45.05 426.23,44.80 C427.17,44.54 428.10,44.29 429.04,44.04 C429.98,43.79 430.92,43.54 431.86,43.30 C432.80,43.06 433.73,42.82 434.67,42.59 C435.61,42.35 436.55,42.12 437.49,41.90 C438.43,41.67 439.36,41.45 440.30,41.23 C441.24,41.01 442.18,40.79 443.12,40.58 C444.06,40.37 444.99,40.16 445.93,39.95 C446.87,39.75 447.81,39.55 448.75,39.35 C449.69,39.15 450.62,38.95 451.56,38.76 C452.50,38.56 453.44,38.37 454.38,38.18 C455.32,38.00 456.25,37.81 457.19,37.63 C458.13,37.45 459.07,37.27 460.01,37.09 C460.95,36.91 461.88,36.74 462.82,36.57 C463.76,36.39 464.70,36.22 465.64,36.06 C466.58,35.89 467.51,35.73 468.45,35.56 C469.39,35.40 470.33,35.24 471.27,35.08 C472.21,34.93 473.15,34.77 474.08,34.62 C475.02,34.47 475.96,34.31 476.90,34.17 C477.84,34.02 478.78,33.87 479.71,33.73 C480.65,33.58 481.59,33.44 482.53,33.30 C483.47,33.16 484.41,33.02 485.34,32.89 C486.28,32.75 487.22,32.62 488.16,32.49 C489.10,32.36 490.04,32.23 490.97,32.10 C491.91,31.97 492.85,31.85 493.79,31.72 C494.73,31.60 495.67,31.48 496.60,31.36 C497.54,31.24 498.48,31.12 499.42,31.01 C500.36,30.89 501.30,30.78 502.23,30.66 C503.17,30.55 504.11,30.44 505.05,30.33 C505.99,30.22 506.93,30.12 507.86,30.01 C508.80,29.91 509.74,29.80 510.68,29.70 C511.62,29.60 512.56,29.50 513.49,29.40 C514.43,29.30 515.37,29.20 516.31,29.11 C517.25,29.01 518.19,28.92 519.12,28.82 C520.06,28.73 521.00,28.64 521.94,28.55 C522.88,28.46 523.82,28.37 524.75,28.29 C525.69,28.20 526.63,28.11 527.57,28.03 C528.51,27.94 529.45,27.86 530.38,27.78 C531.32,27.70 532.26,27.62 533.20,27.54 C534.14,27.46 535.08,27.38 536.01,27.30 C536.95,27.23 537.89,27.15 538.83,27.08 C539.77,27.00 540.71,26.93 541.64,26.86 C542.58,26.79 543.52,26.72 544.46,26.65 C545.40,26.58 546.34,26.51 547.27,26.44 C548.21,26.38 549.15,26.31 550.09,26.25 C551.03,26.18 551.97,26.12 552.91,26.05 C553.84,25.99 554.78,25.93 555.72,25.87 C556.66,25.81 557.60,25.75 558.54,25.69 C559.47,25.64 560.41,25.58 561.35,25.52 C562.29,25.47 563.23,25.41 564.17,25.36 C565.10,25.31 566.04,25.25 566.98,25.20 C567.92,25.15 568.86,25.10 569.80,25.05 C570.73,25.00 571.67,24.95 572.61,24.90 C573.55,24.86 574.49,24.81 575.43,24.76 C576.36,24.72 577.30,24.67 578.24,24.63 C579.18,24.59 580.12,24.54 581.06,24.50 C581.99,24.46 582.93,24.42 583.87,24.38 C584.81,24.34 585.75,24.30 586.69,24.26 C587.62,24.22 588.56,24.19 589.50,24.15 C590.44,24.11 591.38,24.08 592.32,24.04 C593.25,24.01 594.19,23.97 595.13,23.94 C596.07,23.91 597.01,23.87 597.95,23.84 C598.88,23.81 599.82,23.78 600.76,23.75 C601.70,23.72 602.64,23.69 603.58,23.66 C604.51,23.63 605.45,23.61 606.39,23.58 C607.33,23.55 608.27,23.53 609.21,23.50 C610.14,23.48 611.08,23.45 612.02,23.43 C612.96,23.40 613.90,23.38 614.84,23.36 C615.77,23.33 616.71,23.31 617.65,23.29 C618.59,23.27 619.53,23.25 620.47,23.23 C621.40,23.21 622.34,23.19 623.28,23.17 C624.22,23.15 625.16,23.13 626.10,23.12 C627.03,23.10 627.97,23.08 628.91,23.07 C629.85,23.05 630.79,23.03 631.73,23.02 C632.66,23.00 633.60,22.99 634.54,22.97 C635.48,22.96 636.42,22.94 637.36,22.93 C638.30,22.92 639.23,22.91 640.17,22.89 C641.11,22.88 642.05,22.87 642.99,22.86 C643.93,22.85 644.86,22.84 645.80,22.83 C646.74,22.82 647.68,22.81 648.62,22.80 C649.56,22.79 650.49,22.78 651.43,22.77 C652.37,22.76 653.31,22.75 654.25,22.74 C655.19,22.74 656.12,22.73 657.06,22.72 C658.00,22.71 658.94,22.71 659.88,22.70 C660.82,22.69 661.75,22.69 662.69,22.68 C663.63,22.68 664.57,22.67 665.51,22.67 C666.45,22.66 667.38,22.66 668.32,22.65 C669.26,22.65 670.20,22.64 671.14,22.64 C672.08,22.64 673.01,22.63 673.95,22.63 C674.89,22.62 675.83,22.62 676.77,22.62 C677.71,22.62 678.64,22.61 679.58,22.61 C680.52,22.61 681.46,22.61 682.40,22.60 C683.34,22.60 684.27,22.60 685.21,22.60 C686.15,22.59 687.09,22.59 688.03,22.59 C688.97,22.59 689.90,22.59 690.84,22.59 C691.78,22.59 692.72,22.58 693.66,22.58 C694.60,22.58 695.53,22.58 696.47,22.58 C697.41,22.58 698.35,22.58 699.29,22.58 C700.23,22.58 701.16,22.58 702.10,22.57 C703.04,22.57 703.98,22.57 704.92,22.57 C705.86,22.57 706.79,22.57 707.73,22.57 C708.67,22.57 709.61,22.57 710.55,22.57 C711.49,22.57 712.42,22.57 713.36,22.57 C714.30,22.56 715.24,22.56 716.18,22.56 C717.12,22.56 718.06,22.56 718.99,22.56 C719.93,22.56 720.87,22.56 721.81,22.56 C722.75,22.55 723.69,22.55 724.62,22.55 C725.56,22.55 726.50,22.55 727.44,22.55 C728.38,22.54 729.32,22.54 730.25,22.54 C731.19,22.54 732.13,22.54 733.07,22.53 C734.01,22.53 734.95,22.53 735.88,22.53 C736.82,22.52 737.76,22.52 738.70,22.52 C739.64,22.51 740.58,22.51 741.51,22.50 C742.45,22.50 743.39,22.50 744.33,22.49 C745.27,22.49 746.21,22.48 747.14,22.48 C748.08,22.47 749.02,22.47 749.96,22.46 C750.90,22.46 751.84,22.45 752.77,22.44 C753.71,22.44 754.65,22.43 755.59,22.42 C756.53,22.42 757.47,22.41 758.40,22.40 C759.34,22.39 760.28,22.39 761.22,22.38 C762.16,22.37 763.10,22.36 764.03,22.35 C764.97,22.34 765.91,22.33 766.85,22.32 C767.79,22.31 768.73,22.30 769.66,22.29 C770.60,22.28 771.54,22.27 772.48,22.25 C773.42,22.24 774.36,22.23 775.29,22.22 C776.23,22.20 777.17,22.19 778.11,22.18 C779.05,22.16 779.99,22.15 780.92,22.13 C781.86,22.12 782.80,22.10 783.74,22.09 C784.68,22.07 785.62,22.05 786.55,22.03 C787.49,22.02 788.43,22.00 789.37,21.98 C790.31,21.96 791.25,21.94 792.18,21.92 C793.12,21.90 794.53,21.87 795.00,21.86" stroke="#0c7cb1" stroke-width="2.50"/>
<path d="M65.90,161.91 C66.37,161.91 67.78,161.89 68.72,161.87 C69.65,161.86 70.59,161.85 71.53,161.83 C72.47,161.82 73.41,161.81 74.35,161.79 C75.28,161.78 76.22,161.77 77.16,161.75 C78.10,161.74 79.04,161.73 79.98,161.72 C80.91,161.70 81.85,161.69 82.79,161.68 C83.73,161.67 84.67,161.65 85.61,161.64 C86.54,161.63 87.48,161.62 88.42,161.60 C89.36,161.59 90.30,161.58 91.24,161.57 C92.17,161.55 93.11,161.54 94.05,161.53 C94.99,161.52 95.93,161.50 96.87,161.49 C97.80,161.48 98.74,161.47 99.68,161.45 C100.62,161.44 101.56,161.43 102.50,161.42 C103.43,161.40 104.37,161.39 105.31,161.38 C106.25,161.36 107.19,161.35 108.13,161.34 C109.06,161.32 110.00,161.31 110.94,161.29 C111.88,161.28 112.82,161.27 113.76,161.25 C114.69,161.24 115.63,161.22 116.57,161.21 C117.51,161.19 118.45,161.18 119.39,161.16 C120.32,161.15 121.26,161.13 122.20,161.12 C123.14,161.10 124.08,161.08 125.02,161.07 C125.95,161.05 126.89,161.03 127.83,161.01 C128.77,161.00 129.71,160.98 130.65,160.96 C131.58,160.94 132.52,160.92 133.46,160.91 C134.40,160.89 135.34,160.87 136.28,160.85 C137.21,160.83 138.15,160.81 139.09,160.79 C140.03,160.77 140.97,160.75 141.91,160.72 C142.84,160.70 143.78,160.68 144.72,160.66 C145.66,160.63 146.60,160.61 147.54,160.59 C148.48,160.56 149.41,160.54 150.35,160.52 C151.29,160.49 152.23,160.47 153.17,160.44 C154.11,160.41 155.04,160.39 155.98,160.36 C156.92,160.33 157.86,160.30 158.80,160.28 C159.74,160.25 160.67,160.22 161.61,160.19 C162.55,160.16 163.49,160.13 164.43,160.10 C165.37,160.07 166.30,160.04 167.24,160.00 C168.18,159.97 169.12,159.94 170.06,159.90 C171.00,159.87 171.93,159.83 172.87,159.80 C173.81,159.76 174.75,159.73 175.69,159.69 C176.63,159.65 177.56,159.62 178.50,159.58 C179.44,159.54 180.38,159.50 181.32,159.46 C182.26,159.42 183.19,159.38 184.13,159.34 C185.07,159.29 186.01,159.25 186.95,159.21 C187.89,159.16 188.82,159.12 189.76,159.07 C190.70,159.03 191.64,158.98 192.58,158.93 C193.52,158.89 194.45,158.84 195.39,158.79 C196.33,158.74 197.27,158.69 198.21,158.64 C199.15,158.59 200.08,158.53 201.02,158.48 C201.96,158.43 202.90,158.37 203.84,158.32 C204.78,158.26 205.71,158.20 206.65,158.15 C207.59,158.09 208.53,158.03 209.47,157.97 C210.41,157.91 211.34,157.85 212.28,157.79 C213.22,157.73 214.16,157.66 215.10,157.60 C216.04,157.53 216.97,157.47 217.91,157.40 C218.85,157.34 219.79,157.27 220.73,157.20 C221.67,157.13 222.60,157.06 223.54,156.99 C224.48,156.92 225.42,156.84 226.36,156.77 C227.30,156.70 228.24,156.62 229.17,156.54 C230.11,156.47 231.05,156.39 231.99,156.31 C232.93,156.23 233.87,156.15 234.80,156.07 C235.74,155.99 236.68,155.91 237.62,155.82 C238.56,155.74 239.50,155.65 240.43,155.56 C241.37,155.48 242.31,155.39 243.25,155.30 C244.19,155.21 245.13,155.12 246.06,155.02 C247.00,154.93 247.94,154.84 248.88,154.74 C249.82,154.65 250.76,154.55 251.69,154.45 C252.63,154.35 253.57,154.25 254.51,154.15 C255.45,154.05 256.39,153.95 257.32,153.84 C258.26,153.74 259.20,153.63 260.14,153.52 C261.08,153.41 262.02,153.31 262.95,153.19 C263.89,153.08 264.83,152.97 265.77,152.86 C266.71,152.74 267.65,152.63 268.58,152.51 C269.52,152.39 270.46,152.27 271.40,152.15 C272.34,152.03 273.28,151.91 274.21,151.79 C275.15,151.66 276.09,151.54 277.03,151.41 C277.97,151.28 278.91,151.15 279.84,151.02 C280.78,150.89 281.72,150.75 282.66,150.62 C283.60,150.48 284.54,150.34 285.47,150.20 C286.41,150.06 287.35,149.92 288.29,149.77 C289.23,149.63 290.17,149.48 291.10,149.33 C292.04,149.18 292.98,149.03 293.92,148.87 C294.86,148.72 295.80,148.56 296.73,148.40 C297.67,148.23 298.61,148.07 299.55,147.90 C300.49,147.74 301.43,147.57 302.36,147.39 C303.30,147.22 304.24,147.04 305.18,146.86 C306.12,146.68 307.06,146.50 307.99,146.31 C308.93,146.13 309.87,145.94 310.81,145.74 C311.75,145.55 312.69,145.35 313.63,145.15 C314.56,144.95 315.50,144.75 316.44,144.54 C317.38,144.33 318.32,144.12 319.26,143.90 C320.19,143.69 321.13,143.47 322.07,143.24 C323.01,143.02 323.95,142.79 324.89,142.56 C325.82,142.32 326.76,142.09 327.70,141.85 C328.64,141.61 329.58,141.36 330.52,141.11 C331.45,140.86 332.39,140.61 333.33,140.35 C334.27,140.09 335.21,139.82 336.15,139.55 C337.08,139.29 338.02,139.01 338.96,138.73 C339.90,138.46 340.84,138.17 341.78,137.89 C342.71,137.60 343.65,137.31 344.59,137.01 C345.53,136.71 346.47,136.41 347.41,136.11 C348.34,135.80 349.28,135.49 350.22,135.18 C351.16,134.86 352.10,134.54 353.04,134.22 C353.97,133.90 354.91,133.57 355.85,133.24 C356.79,132.91 357.73,132.57 358.67,132.23 C359.60,131.89 360.54,131.55 361.48,131.20 C362.42,130.85 363.36,130.50 364.30,130.15 C365.23,129.79 366.17,129.43 367.11,129.07 C368.05,128.71 368.99,128.34 369.93,127.97 C370.86,127.60 371.80,127.23 372.74,126.85 C373.68,126.47 374.62,126.09 375.56,125.71 C376.49,125.32 377.43,124.93 378.37,124.54 C379.31,124.15 380.25,123.76 381.19,123.36 C382.12,122.96 383.06,122.56 384.00,122.16 C384.94,121.75 385.88,121.34 386.82,120.93 C387.75,120.52 388.69,120.11 389.63,119.69 C390.57,119.27 391.51,118.86 392.45,118.43 C393.39,118.01 394.32,117.58 395.26,117.16 C396.20,116.73 397.14,116.30 398.08,115.86 C399.02,115.43 399.95,114.99 400.89,114.56 C401.83,114.12 402.77,113.67 403.71,113.23 C404.65,112.79 405.58,112.34 406.52,111.89 C407.46,111.44 408.40,110.99 409.34,110.54 C410.28,110.08 411.21,109.63 412.15,109.17 C413.09,108.71 414.03,108.25 414.97,107.79 C415.91,107.33 416.84,106.86 417.78,106.40 C418.72,105.93 419.66,105.46 420.60,104.99 C421.54,104.52 422.47,104.05 423.41,103.58 C424.35,103.10 425.29,102.63 426.23,102.15 C427.17,101.67 428.10,101.19 429.04,100.71 C429.98,100.23 430.92,99.75 431.86,99.26 C432.80,98.78 433.73,98.29 434.67,97.81 C435.61,97.32 436.55,96.83 437.49,96.34 C438.43,95.85 439.36,95.36 440.30,94.87 C441.24,94.38 442.18,93.89 443.12,93.39 C444.06,92.90 444.99,92.40 445.93,91.90 C446.87,91.41 447.81,90.91 448.75,90.41 C449.69,89.91 450.62,89.41 451.56,88.91 C452.50,88.41 453.44,87.91 454.38,87.41 C455.32,86.91 456.25,86.40 457.19,85.90 C458.13,85.40 459.07,84.89 460.01,84.39 C460.95,83.89 461.88,83.38 462.82,82.88 C463.76,82.37 464.70,81.87 465.64,81.37 C466.58,80.86 467.51,80.36 468.45,79.86 C469.39,79.35 470.33,78.85 471.27,78.35 C472.21,77.85 473.15,77.35 474.08,76.85 C475.02,76.35 475.96,75.85 476.90,75.35 C477.84,74.85 478.78,74.36 479.71,73.86 C480.65,73.37 481.59,72.88 482.53,72.39 C483.47,71.89 484.41,71.41 485.34,70.92 C486.28,70.43 487.22,69.95 488.16,69.46 C489.10,68.98 490.04,68.50 490.97,68.02 C491.91,67.55 492.85,67.07 493.79,66.60 C494.73,66.13 495.67,65.66 496.60,65.19 C497.54,64.73 498.48,64.27 499.42,63.81 C500.36,63.35 501.30,62.89 502.23,62.44 C503.17,61.99 504.11,61.54 505.05,61.10 C505.99,60.65 506.93,60.21 507.86,59.78 C508.80,59.34 509.74,58.91 510.68,58.48 C511.62,58.05 512.56,57.63 513.49,57.21 C514.43,56.79 515.37,56.38 516.31,55.97 C517.25,55.56 518.19,55.16 519.12,54.76 C520.06,54.36 521.00,53.97 521.94,53.58 C522.88,53.20 523.82,52.81 524.75,52.44 C525.69,52.06 526.63,51.69 527.57,51.33 C528.51,50.97 529.45,50.61 530.38,50.26 C531.32,49.90 532.26,49.56 533.20,49.22 C534.14,48.88 535.08,48.54 536.01,48.21 C536.95,47.89 537.89,47.56 538.83,47.24 C539.77,46.93 540.71,46.62 541.64,46.31 C542.58,46.00 543.52,45.70 544.46,45.40 C545.40,45.11 546.34,44.82 547.27,44.53 C548.21,44.25 549.15,43.97 550.09,43.69 C551.03,43.41 551.97,43.14 552.91,42.88 C553.84,42.61 554.78,42.35 555.72,42.09 C556.66,41.84 557.60,41.58 558.54,41.34 C559.47,41.09 560.41,40.84 561.35,40.60 C562.29,40.37 563.23,40.13 564.17,39.90 C565.10,39.67 566.04,39.44 566.98,39.22 C567.92,39.00 568.86,38.78 569.80,38.56 C570.73,38.35 571.67,38.14 572.61,37.93 C573.55,37.72 574.49,37.52 575.43,37.32 C576.36,37.12 577.30,36.92 578.24,36.73 C579.18,36.54 580.12,36.35 581.06,36.16 C581.99,35.97 582.93,35.79 583.87,35.61 C584.81,35.43 585.75,35.25 586.69,35.08 C587.62,34.90 588.56,34.73 589.50,34.56 C590.44,34.39 591.38,34.22 592.32,34.06 C593.25,33.90 594.19,33.74 595.13,33.58 C596.07,33.42 597.01,33.26 597.95,33.11 C598.88,32.96 599.82,32.81 600.76,32.66 C601.70,32.51 602.64,32.37 603.58,32.22 C604.51,32.08 605.45,31.94 606.39,31.80 C607.33,31.66 608.27,31.53 609.21,31.40 C610.14,31.26 611.08,31.13 612.02,31.00 C612.96,30.87 613.90,30.75 614.84,30.62 C615.77,30.50 616.71,30.38 617.65,30.26 C618.59,30.14 619.53,30.02 620.47,29.91 C621.40,29.79 622.34,29.68 623.28,29.57 C624.22,29.46 625.16,29.35 626.10,29.25 C627.03,29.14 627.97,29.03 628.91,28.93 C629.85,28.83 630.79,28.73 631.73,28.63 C632.66,28.53 633.60,28.44 634.54,28.34 C635.48,28.25 636.42,28.16 637.36,28.07 C638.30,27.98 639.23,27.89 640.17,27.80 C641.11,27.72 642.05,27.63 642.99,27.55 C643.93,27.47 644.86,27.39 645.80,27.31 C646.74,27.23 647.68,27.15 648.62,27.08 C649.56,27.00 650.49,26.93 651.43,26.85 C652.37,26.78 653.31,26.71 654.25,26.64 C655.19,26.57 656.12,26.51 657.06,26.44 C658.00,26.37 658.94,26.31 659.88,26.25 C660.82,26.19 661.75,26.12 662.69,26.06 C663.63,26.01 664.57,25.95 665.51,25.89 C666.45,25.83 667.38,25.78 668.32,25.73 C669.26,25.67 670.20,25.62 671.14,25.57 C672.08,25.52 673.01,25.47 673.95,25.42 C674.89,25.37 675.83,25.32 676.77,25.28 C677.71,25.23 678.64,25.19 679.58,25.14 C680.52,25.10 681.46,25.06 682.40,25.02 C683.34,24.98 684.27,24.94 685.21,24.90 C686.15,24.86 687.09,24.82 688.03,24.79 C688.97,24.75 689.90,24.71 690.84,24.68 C691.78,24.65 692.72,24.61 693.66,24.58 C694.60,24.55 695.53,24.52 696.47,24.49 C697.41,24.46 698.35,24.43 699.29,24.40 C700.23,24.37 701.16,24.34 702.10,24.31 C703.04,24.29 703.98,24.26 704.92,24.23 C705.86,24.21 706.79,24.18 707.73,24.16 C708.67,24.14 709.61,24.11 710.55,24.09 C711.49,24.07 712.42,24.05 713.36,24.03 C714.30,24.00 715.24,23.98 716.18,23.96 C717.12,23.94 718.06,23.93 718.99,23.91 C719.93,23.89 720.87,23.87 721.81,23.85 C722.75,23.83 723.69,23.82 724.62,23.80 C725.56,23.78 726.50,23.77 727.44,23.75 C728.38,23.74 729.32,23.72 730.25,23.70 C731.19,23.69 732.13,23.68 733.07,23.66 C734.01,23.65 734.95,23.63 735.88,23.62 C736.82,23.60 737.76,23.59 738.70,23.58 C739.64,23.56 740.58,23.55 741.51,23.54 C742.45,23.52 743.39,23.51 744.33,23.50 C745.27,23.49 746.21,23.47 747.14,23.46 C748.08,23.45 749.02,23.44 749.96,23.42 C750.90,23.41 751.84,23.40 752.77,23.39 C753.71,23.37 754.65,23.36 755.59,23.35 C756.53,23.34 757.47,23.32 758.40,23.31 C759.34,23.30 760.28,23.29 761.22,23.27 C762.16,23.26 763.10,23.25 764.03,23.23 C764.97,23.22 765.91,23.21 766.85,23.19 C767.79,23.18 768.73,23.16 769.66,23.15 C770.60,23.14 771.54,23.12 772.48,23.11 C773.42,23.09 774.36,23.08 775.29,23.06 C776.23,23.04 777.17,23.03 778.11,23.01 C779.05,22.99 779.99,22.98 780.92,22.96 C781.86,22.94 782.80,22.92 783.74,22.91 C784.68,22.89 785.62,22.87 786.55,22.85 C787.49,22.83 788.43,22.81 789.37,22.79 C790.31,22.77 791.25,22.74 792.18,22.72 C793.12,22.70 794.53,22.66 795.00,22.65" stroke="#fc6d1f" stroke-width="2.50"/>
<polyline points="65.9,162.2 67.1,162.2 68.3,162.2 69.5,162.2 70.7,162.2 71.9,162.2 73.1,162.2 74.3,162.2 75.5,162.2 76.7,162.2 77.9,162.2 79.1,162.2 80.3,162.2 81.5,162.2 82.7,162.3 83.9,162.3 85.1,162.3 86.3,162.3 87.5,162.3 88.7,162.3 89.9,162.3 91.1,162.3 92.3,162.3 93.5,162.3 94.7,162.3 95.9,162.3 97.1,162.3 98.3,162.3 99.5,162.3 100.7,162.3 101.9,162.3 103.1,162.3 104.3,162.3 105.5,162.3 106.7,162.3 107.9,162.3 109.1,162.3 110.3,162.3 111.5,162.3 112.7,162.3 113.9,162.3 115.1,162.3 116.3,162.4 117.5,162.4 118.7,162.4 119.9,162.4 121.1,162.4 122.3,162.4 123.5,162.4 124.7,162.4 125.9,162.4 127.1,162.4 128.3,162.4 129.5,162.4 130.7,162.4 131.9,162.4 133.1,162.4 134.3,162.4 135.5,162.4 136.7,162.4 137.9,162.4 139.1,162.4 140.3,162.4 141.5,162.4 142.7,162.4 143.9,162.4 145.1,162.4 146.3,162.4 147.5,162.4 148.7,162.4 149.9,162.5 151.1,162.5 152.3,162.5 153.5,162.5 154.7,162.5 155.9,162.5 157.1,162.5 158.3,162.5 159.5,162.5 160.7,162.5 161.9,162.5 163.1,162.5 164.3,162.5 165.5,162.5 166.7,162.5 167.9,162.5 169.1,162.5 170.3,162.5 171.5,162.5 172.7,162.5 173.9,162.5 175.1,162.5 176.3,162.5 177.5,162.5 178.7,162.5 179.9,162.5 181.1,162.5 182.3,162.5 183.5,162.6 184.7,162.6 185.9,162.6 187.1,162.6 188.3,162.6 189.5,162.6 190.7,162.6 191.9,162.6 193.1,162.6 194.3,162.6 195.5,162.6 196.7,162.6 197.9,162.6 199.1,162.6 200.3,162.6 201.5,162.6 202.7,162.6 203.9,162.6 205.1,162.6 206.3,162.6 207.5,162.6 208.7,162.7 209.9,162.7 211.1,162.7 212.3,162.7 213.5,162.7 214.7,162.7 215.9,162.7 217.1,162.7 218.3,162.7 219.5,162.7 220.7,162.7 221.9,162.7 223.1,162.7 224.3,162.8 225.5,162.8 226.7,162.8 227.9,162.8 229.1,162.8 230.3,162.8 231.5,162.8 232.7,162.8 233.9,162.8 235.1,162.8 236.3,162.8 237.5,162.8 238.7,162.8 239.9,162.8 241.1,162.9 242.3,162.9 243.5,162.9 244.7,162.9 245.9,162.9 247.1,162.9 248.3,162.9 249.5,162.9 250.7,162.9 251.9,162.9 253.1,163.0 254.3,163.0 255.5,163.0 256.7,163.0 257.9,163.0 259.1,163.0 260.3,163.0 261.5,163.0 262.7,163.1 263.9,163.1 265.1,163.1 266.3,163.1 267.5,163.1 268.7,163.1 269.9,163.1 271.1,163.1 272.3,163.2 273.5,163.2 274.7,163.2 275.9,163.2 277.1,163.2 278.3,163.2 279.5,163.2 280.7,163.3 281.9,163.3 283.1,163.3 284.3,163.3 285.5,163.3 286.7,163.4 287.9,163.4 289.1,163.5 290.3,163.5 291.5,163.6 292.7,163.6 293.9,163.7 295.1,163.7 296.3,163.7 297.5,163.8 298.7,163.8 299.9,163.9 301.1,163.9 302.3,164.0 303.5,164.0 304.7,164.1 305.9,164.1 307.1,164.1 308.3,164.2 309.5,164.2 310.7,164.2 311.9,164.2 313.1,164.2 314.3,164.3 315.5,164.3 316.7,164.3 317.9,164.2 319.1,164.2 320.3,164.1 321.5,164.0 322.7,163.9 323.9,163.8 325.1,163.7 326.3,163.6 327.5,163.5 328.7,163.4 329.9,163.4 331.1,163.3 332.3,163.3 333.5,163.2 334.7,163.1 335.9,163.1 337.1,163.0 338.3,163.0 339.5,162.9 340.7,162.9 341.9,162.8 343.1,162.8 344.3,162.8 345.5,162.7 346.7,162.7 347.9,162.7 349.1,162.6 350.3,162.6 351.5,162.6 352.7,162.5 353.9,162.5 355.1,162.5 356.3,162.4 357.5,162.4 358.7,162.3 359.9,162.3 361.1,162.3 362.3,162.2 363.5,162.2 364.7,162.2 365.9,162.1 367.1,162.1 368.3,162.2 369.5,162.3 370.7,162.4 371.9,162.5 373.1,162.6 374.3,162.7 375.5,162.7 376.7,162.8 377.9,162.9 379.1,163.0 380.3,163.1 381.5,163.2 382.7,163.3 383.9,163.4 385.1,163.4 386.3,163.4 387.5,163.3 388.7,163.3 389.9,163.3 391.1,163.3 392.3,163.2 393.5,163.2 394.7,163.2 395.9,163.2 397.1,163.1 398.3,163.1 399.5,163.1 400.7,163.1 401.9,163.0 403.1,163.0 404.3,163.0 405.5,163.0 406.7,162.9 407.9,162.9 409.1,162.9 410.3,162.9 411.5,162.9 412.7,162.9 413.9,162.9 415.1,162.9 416.3,162.9 417.5,162.9 418.7,162.9 419.9,162.9 421.1,162.9 422.3,162.9 423.5,163.0 424.7,163.2 425.9,163.4 427.1,163.6 428.3,163.8 429.5,164.0 430.7,164.2 431.9,164.4 433.1,164.7 434.3,164.9 435.5,165.1 436.7,165.3 437.9,165.5 439.1,165.8 440.3,166.0 441.5,166.2 442.7,166.4 443.9,166.6 445.1,166.9 446.3,167.1 447.5,167.3 448.7,167.6 449.9,167.7 451.1,167.9 452.3,168.2 453.5,168.4 454.7,168.7 455.9,168.8 457.1,169.0 458.3,169.4 459.5,169.5 460.7,169.8 461.9,169.9 463.1,170.1 464.3,170.0 465.5,170.3 466.7,170.6 467.9,170.4 469.1,170.9 470.3,170.7 471.5,171.2 472.7,171.4 473.9,171.5 475.1,171.4 476.3,171.4 477.5,171.8 478.7,172.2 479.9,172.0 481.1,172.5 482.3,172.2 483.5,172.9 484.7,172.4 485.9,172.8 487.1,173.4 488.3,173.5 489.5,173.8 490.7,173.9 491.9,174.0 493.1,174.1 494.3,173.8 495.5,174.0 496.7,173.6 497.9,174.1 499.1,174.0 500.3,173.5 501.5,173.2 502.7,174.0 503.9,173.8 505.1,173.5 506.3,173.4 507.5,173.7 508.7,173.6 509.9,174.0 511.1,174.3 512.3,174.6 513.5,174.7 514.7,175.9 515.9,176.0 517.1,176.7 518.3,176.3 519.5,176.9 520.7,176.8 521.9,177.0 523.1,177.4 524.3,178.4 525.5,178.0 526.7,178.2 527.9,178.7 529.1,178.4 530.3,178.3 531.5,179.2 532.7,179.3 533.9,179.6 535.1,179.4 536.3,179.8 537.5,180.0 538.7,179.4 539.9,179.8 541.1,179.9 542.3,179.6 543.5,180.0 544.7,180.3 545.9,180.7 547.1,180.7 548.3,179.8 549.5,180.3 550.7,179.4 551.9,179.4 553.1,180.0 554.3,180.5 555.5,179.4 556.7,180.4 557.9,180.6 559.1,179.9 560.3,180.5 561.5,180.8 562.7,180.2 563.9,180.8 565.1,180.9 566.3,180.8 567.5,181.2 568.7,181.3 569.9,181.5 571.1,181.0 572.3,180.3 573.5,179.9 574.7,179.4 575.9,179.4 577.1,179.2 578.3,177.6 579.5,178.2 580.7,178.1 581.9,177.4 583.1,177.5 584.3,176.9 585.5,177.5 586.7,176.7 587.9,178.3 589.1,178.2 590.3,178.1 591.5,178.1 592.7,180.0 593.9,180.7 595.1,179.2 596.3,179.3 597.5,178.5 598.7,177.1 599.9,176.2 601.1,175.3 602.3,175.8 603.5,175.7 604.7,174.6 605.9,175.0 607.1,174.2 608.3,173.9 609.5,174.2 610.7,174.0 611.9,175.1 613.1,175.2 614.3,173.7 615.5,174.1 616.7,173.6 617.9,172.9 619.1,172.9 620.3,172.6 621.5,173.1 622.7,171.7 623.9,171.8 625.1,171.9 626.3,171.1 627.5,171.8 628.7,171.6 629.9,171.7 631.1,170.6 632.3,170.5 633.5,170.7 634.7,170.1 635.9,170.5 637.1,169.9 638.3,170.4 639.5,170.4 640.7,170.3 641.9,170.4 643.1,169.7 644.3,169.5 645.5,170.2 646.7,170.4 647.9,170.3 649.1,170.3 650.3,169.7 651.5,168.7 652.7,169.1 653.9,167.3 655.1,167.9 656.3,167.8 657.5,168.6 658.7,168.5 659.9,169.0 661.1,168.0 662.3,168.6 663.5,167.3 664.7,165.3 665.9,164.3 667.1,162.5 668.3,161.5 669.5,160.0 670.7,160.2 671.9,159.6 673.1,158.7 674.3,158.3 675.5,158.3 676.7,157.5 677.9,156.0 679.1,155.1 680.3,153.4 681.5,151.8 682.7,150.3 683.9,149.6 685.1,149.0 686.3,148.3 687.5,147.0 688.7,145.2 689.9,144.7 691.1,142.3 692.3,141.6 693.5,139.4 694.7,139.2 695.9,138.9 697.1,137.1 698.3,136.1 699.5,135.7 700.7,133.9 701.9,131.9 703.1,129.7 704.3,129.3 705.5,129.5 706.7,129.6 707.9,128.4 709.1,125.3 710.3,123.2 711.5,121.6 712.7,119.7 713.9,117.7 715.1,116.6 716.3,114.9 717.5,113.3 718.7,111.7 719.9,109.9 721.1,109.1 722.3,108.0 723.5,107.3 724.7,105.8 725.9,104.7 727.1,103.5 728.3,102.5 729.5,101.1 730.7,99.5 731.9,98.3 733.1,97.9 734.3,98.6 735.5,99.5 736.7,97.3 737.9,97.1 739.1,94.9 740.3,93.3 741.5,91.0 742.7,90.4 743.9,89.3 745.1,87.2 746.3,85.5 747.5,84.6 748.7,81.8 749.9,81.3 751.1,81.0 752.3,79.3 753.5,77.6 754.7,77.0 755.9,75.7 757.1,73.9 758.3,72.9 759.5,73.1 760.7,71.0 761.9,69.6 763.1,70.0 764.3,68.4 765.5,67.1 766.7,66.3 767.9,65.7 769.1,63.6 770.3,63.5 771.5,62.5 772.7,61.7 773.9,60.0 775.1,60.2 776.3,59.2 777.5,59.3 778.7,58.0 779.9,58.0 781.1,57.1 782.3,55.1 783.5,53.8 784.7,54.1 785.9,53.0 787.1,52.7 788.3,51.1 789.5,52.0 790.7,51.1 791.9,50.3 793.1,50.0 794.3,50.1 794.9,49.5" stroke="#089e3c" stroke-width="2.50"/>
<polyline points="65.9,162.5 67.5,162.5 69.1,162.5 70.7,162.5 72.3,162.6 73.9,162.6 75.5,162.6 77.1,162.6 78.7,162.6 80.3,162.6 81.9,162.6 83.5,162.7 85.1,162.7 86.7,162.7 88.3,162.7 89.9,162.7 91.5,162.7 93.1,162.8 94.7,162.8 96.3,162.8 97.9,162.8 99.5,162.8 101.1,162.8 102.7,162.8 104.3,162.9 105.9,162.9 107.5,162.9 109.1,162.9 110.7,162.9 112.3,162.9 113.9,162.9 115.5,163.0 117.1,163.0 118.7,163.0 120.3,163.0 121.9,163.0 123.5,163.0 125.1,163.1 126.7,163.1 128.3,163.1 129.9,163.1 131.5,163.1 133.1,163.1 134.7,163.1 136.3,163.2 137.9,163.2 139.5,163.2 141.1,163.2 142.7,163.2 144.3,163.2 145.9,163.2 147.5,163.3 149.1,163.3 150.7,163.3 152.3,163.3 153.9,163.3 155.5,163.3 157.1,163.4 158.7,163.4 160.3,163.4 161.9,163.4 163.5,163.4 165.1,163.5 166.7,163.5 168.3,163.5 169.9,163.6 171.5,163.6 173.1,163.7 174.7,163.7 176.3,163.7 177.9,163.8 179.5,163.8 181.1,163.9 182.7,163.9 184.3,163.9 185.9,164.0 187.5,164.0 189.1,164.0 190.7,164.1 192.3,164.1 193.9,164.2 195.5,164.2 197.1,164.2 198.7,164.3 200.3,164.3 201.9,164.4 203.5,164.4 205.1,164.5 206.7,164.5 208.3,164.6 209.9,164.6 211.5,164.7 213.1,164.7 214.7,164.8 216.3,164.8 217.9,164.9 219.5,164.9 221.1,165.0 222.7,165.0 224.3,165.1 225.9,165.1 227.5,165.3 229.1,165.5 230.7,165.6 232.3,165.8 233.9,165.9 235.5,166.1 237.1,166.3 238.7,166.4 240.3,166.4 241.9,166.5 243.5,166.6 245.1,166.7 246.7,166.7 248.3,166.8 249.9,166.8 251.5,166.9 253.1,166.9 254.7,166.9 256.3,167.0 257.9,167.0 259.5,167.0 261.1,167.1 262.7,167.1 264.3,167.1 265.9,167.2 267.5,167.2 269.1,167.2 270.7,167.3 272.3,167.3 273.9,167.3 275.5,167.4 277.1,167.4 278.7,167.4 280.3,167.5 281.9,167.5 283.5,167.5 285.1,167.6 286.7,167.6 288.3,167.6 289.9,167.7 291.5,167.7 293.1,167.9 294.7,168.1 296.3,168.2 297.9,168.4 299.5,168.6 301.1,168.8 302.7,169.0 304.3,169.2 305.9,169.4 307.5,169.6 309.1,169.7 310.7,169.9 312.3,170.0 313.9,170.2 315.5,170.3 317.1,170.4 318.7,170.6 320.3,170.6 321.9,170.6 323.5,170.7 325.1,170.7 326.7,170.7 328.3,170.7 329.9,170.8 331.5,170.8 333.1,170.8 334.7,170.8 336.3,170.8 337.9,170.9 339.5,170.9 341.1,171.0 342.7,171.0 344.3,171.1 345.9,171.2 347.5,171.3 349.1,171.4 350.7,171.5 352.3,171.6 353.9,171.7 355.5,171.8 357.1,171.8 358.7,171.9 360.3,172.0 361.9,172.1 363.5,172.2 365.1,172.3 366.7,172.4 368.3,172.6 369.9,172.7 371.5,172.9 373.1,173.0 374.7,173.2 376.3,173.4 377.9,173.5 379.5,173.7 381.1,173.8 382.7,174.0 384.3,174.1 385.9,174.3 387.5,174.5 389.1,174.6 390.7,174.8 392.3,175.1 393.9,175.5 395.5,175.8 397.1,176.2 398.7,176.6 400.3,176.9 401.9,177.3 403.5,177.7 405.1,178.0 406.7,178.4 408.3,178.7 409.9,179.0 411.5,179.3 413.1,179.6 414.7,179.9 416.3,180.2 417.9,180.4 419.5,180.8 421.1,181.2 422.7,182.0 424.3,182.6 425.9,183.3 427.5,184.0 429.1,184.6 430.7,185.1 432.3,185.5 433.9,185.9 435.5,186.5 437.1,186.9 438.7,187.4 440.3,187.7 441.9,187.9 443.5,188.7 445.1,189.3 446.7,189.8 448.3,190.2 449.9,190.7 451.5,191.3 453.1,192.0 454.7,192.3 456.3,193.0 457.9,193.5 459.5,194.4 461.1,195.1 462.7,196.0 464.3,196.7 465.9,197.1 467.5,197.8 469.1,198.8 470.7,199.4 472.3,200.3 473.9,201.3 475.5,202.5 477.1,203.1 478.7,204.3 480.3,204.6 481.9,205.8 483.5,207.3 485.1,207.0 486.7,207.7 488.3,207.8 489.9,208.2 491.5,209.8 493.1,214.0 494.7,216.0 496.3,216.3 497.9,217.3 499.5,218.0 501.1,219.2 502.7,220.0 504.3,220.6 505.9,221.9 507.5,222.7 509.1,224.3 510.7,225.9 512.3,226.9 513.9,227.5 515.5,229.1 517.1,230.5 518.7,231.1 520.3,232.7 521.9,233.2 523.5,234.3 525.1,235.0 526.7,236.5 528.3,237.2 529.9,237.5 531.5,237.6 533.1,238.4 534.7,238.6 536.3,239.6 537.9,240.4 539.5,240.3 541.1,241.2 542.7,241.7 544.3,242.2 545.9,243.1 547.5,243.6 549.1,243.7 550.7,243.8 552.3,244.5 553.9,244.3 555.5,244.9 557.1,245.2 558.7,246.7 560.3,248.1 561.9,248.6 563.5,249.4 565.1,249.6 566.7,250.3 568.3,250.9 569.9,251.1 571.5,250.9 573.1,251.7 574.7,252.4 576.3,253.4 577.9,254.0 579.5,255.0 581.1,255.0 582.7,256.2 584.3,256.3 585.9,256.5 587.5,257.1 589.1,257.4 590.7,257.4 592.3,259.1 593.9,260.1 595.5,260.5 597.1,261.8 598.7,262.0 600.3,262.1 601.9,263.1 603.5,262.9 605.1,263.7 606.7,264.0 608.3,264.4 609.9,265.3 611.5,265.8 613.1,266.1 614.7,267.1 616.3,266.8 617.9,267.1 619.5,267.9 621.1,268.6 622.7,268.9 624.3,269.4 625.9,269.6 627.5,270.3 629.1,270.6 630.7,271.1 632.3,271.9 633.9,272.0 635.5,272.7 637.1,273.8 638.7,273.9 640.3,274.9 641.9,275.4 643.5,275.7 645.1,276.4 646.7,277.0 648.3,277.5 649.9,277.6 651.5,278.2 653.1,278.8 654.7,279.4 656.3,279.9 657.9,280.3 659.5,281.1 661.1,281.7 662.7,281.9 664.3,282.4 665.9,282.8 667.5,283.3 669.1,283.9 670.7,284.2 672.3,284.8 673.9,285.1 675.5,285.3 677.1,285.5 678.7,285.5 680.3,285.8 681.9,285.8 683.5,286.0 685.1,286.2 686.7,286.3 688.3,286.5 689.9,286.6 691.5,286.8 693.1,286.9 694.7,287.1 696.3,287.2 697.9,287.4 699.5,287.8 701.1,288.2 702.7,288.6 704.3,289.0 705.9,289.3 707.5,289.5 709.1,289.8 710.7,290.1 712.3,290.3 713.9,290.6 715.5,290.8 717.1,291.1 718.7,291.4 720.3,291.7 721.9,292.0 723.5,292.4 725.1,292.7 726.7,293.1 728.3,293.4 729.9,293.8 731.5,294.1 733.1,294.3 734.7,294.6 736.3,294.8 737.9,295.0 739.5,295.3 741.1,295.5 742.7,295.7 744.3,295.8 745.9,295.9 747.5,295.9 749.1,295.9 750.7,296.0 752.3,296.0 753.9,296.1 755.5,296.1 757.1,296.3 758.7,296.5 760.3,296.6 761.9,296.8 763.5,297.0 765.1,297.1 766.7,297.3 768.3,297.5 769.9,297.6 771.5,297.8 773.1,298.0 774.7,298.2 776.3,298.4 777.9,298.6 779.5,298.7 781.1,298.8 782.7,298.9 784.3,299.0 785.9,299.1 787.5,299.2 789.1,299.3 790.7,299.4 792.3,299.5 793.9,299.6 795.2,299.7" stroke="#e60032" stroke-width="2.50"/>
</g>
<g font-family="'Liberation Serif', serif" font-size="31.2px" fill="#000" opacity="0.999">
<text transform="translate(52.40,313.10) scale(1.000,1.000)" text-anchor="end">0</text>
<text transform="translate(52.40,256.94) scale(1.000,1.000)" text-anchor="end">0.2</text>
<text transform="translate(52.40,200.78) scale(1.000,1.000)" text-anchor="end">0.4</text>
<text transform="translate(52.40,144.62) scale(1.000,1.000)" text-anchor="end">0.6</text>
<text transform="translate(52.40,88.46) scale(1.000,1.000)" text-anchor="end">0.8</text>
<text transform="translate(52.40,32.30) scale(1.000,0.940)" text-anchor="end">1</text>
<text transform="translate(50.90,340.7) scale(1.06,0.96)" text-anchor="middle">1</text>
<text transform="translate(64.80,340.7) scale(1.0,1)" text-anchor="middle">0</text>
<text transform="translate(80.75,330.2) scale(1.08,1)" text-anchor="middle" font-size="24px">2</text>
<text transform="translate(233.18,340.7) scale(1.06,0.96)" text-anchor="middle">1</text>
<text transform="translate(247.08,340.7) scale(1.0,1)" text-anchor="middle">0</text>
<text transform="translate(263.03,330.2) scale(1.08,1)" text-anchor="middle" font-size="24px">3</text>
<text transform="translate(415.45,340.7) scale(1.06,0.96)" text-anchor="middle">1</text>
<text transform="translate(429.35,340.7) scale(1.0,1)" text-anchor="middle">0</text>
<text transform="translate(445.30,330.2) scale(1.08,1)" text-anchor="middle" font-size="24px">4</text>
<text transform="translate(597.73,340.7) scale(1.06,0.96)" text-anchor="middle">1</text>
<text transform="translate(611.62,340.7) scale(1.0,1)" text-anchor="middle">0</text>
<text transform="translate(627.58,330.2) scale(1.08,1)" text-anchor="middle" font-size="24px">5</text>
<text transform="translate(780.00,340.7) scale(1.06,0.96)" text-anchor="middle">1</text>
<text transform="translate(793.90,340.7) scale(1.0,1)" text-anchor="middle">0</text>
<text transform="translate(809.85,330.2) scale(1.08,1)" text-anchor="middle" font-size="24px">6</text>
</g>
</svg>
</body></html>
